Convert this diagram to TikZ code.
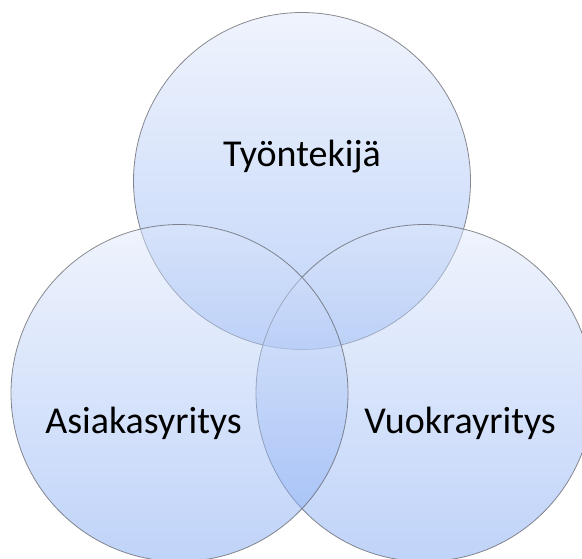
\documentclass[tikz,border=0pt]{standalone}
\usepackage{fontspec}
\setmainfont{Carlito}
\definecolor{vtop}{RGB}{222,231,250}
\definecolor{vbot}{RGB}{122,164,242}
\definecolor{vline}{RGB}{90,90,95}
\begin{document}
\begin{tikzpicture}[x=1pt,y=-1pt,
  venn/.style={circle, minimum size=337pt, inner sep=0pt, top color=vtop, bottom color=vbot,
    fill opacity=0.48, draw=vline, draw opacity=0.7, line width=0.8pt},
  lbl/.style={anchor=base, inner sep=0pt, text=black, font=\fontsize{38}{40}\selectfont}]
\useasboundingbox (0,0) rectangle (582,558);
\clip (0,0) rectangle (582,558);
\node[venn] (top) at (302,181) {};
\node[venn] (right) at (424.5,393) {};
\node[venn] (left) at (179.5,393) {};
\node[lbl] (ttop) at (302,166) {Työntekijä};
\node[lbl] (tleft) at (143.5,433.5) {Asiakasyritys};
\node[lbl] (tright) at (460,433.5) {Vuokrayritys};
\end{tikzpicture}
\end{document}
